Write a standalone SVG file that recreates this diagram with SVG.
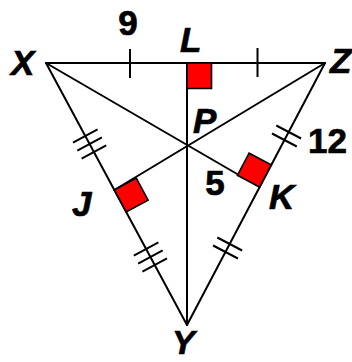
<svg xmlns="http://www.w3.org/2000/svg" width="352" height="362" viewBox="0 0 352 362">
<style>
.ln{stroke:#000;stroke-width:2;fill:none;stroke-linecap:round}
.tk{stroke:#000;stroke-width:2;fill:none}
.sq{fill:#ff0000;stroke:#000;stroke-width:1.6;stroke-linejoin:miter}
.lb{font-family:"Liberation Sans",Arial,sans-serif;font-weight:bold;font-size:35px;fill:#000;stroke:#000;stroke-width:0.7}
.it{font-style:italic}
</style>
<rect width="352" height="362" fill="#fff"/>
<g id="connectors">
<line class="ln" x1="46" y1="63" x2="325" y2="63"/>
<line class="ln" x1="46" y1="63" x2="187" y2="325"/>
<line class="ln" x1="325" y1="63" x2="187" y2="325"/>
<line class="ln" x1="187" y1="63" x2="187" y2="325"/>
<line class="ln" x1="46" y1="63" x2="259.5" y2="187"/>
<line class="ln" x1="325" y1="63" x2="114.3" y2="190"/>
</g>
<g id="ticks">
<line class="tk" x1="130" y1="49" x2="130" y2="78"/>
<line class="tk" x1="257.5" y1="48" x2="257.5" y2="77"/>
<line class="tk" x1="73" y1="142.6" x2="97.6" y2="129.4"/>
<line class="tk" x1="77.3" y1="150.6" x2="101.9" y2="137.4"/>
<line class="tk" x1="81.6" y1="158.6" x2="106.2" y2="145.4"/>
<line class="tk" x1="133.8" y1="255.6" x2="158.4" y2="242.4"/>
<line class="tk" x1="138.1" y1="263.6" x2="162.7" y2="250.4"/>
<line class="tk" x1="142.4" y1="271.6" x2="167" y2="258.4"/>
<line class="tk" x1="276.3" y1="125.5" x2="301.1" y2="138.5"/>
<line class="tk" x1="272" y1="133.5" x2="296.8" y2="146.5"/>
<line class="tk" x1="217.3" y1="237.5" x2="242.1" y2="250.5"/>
<line class="tk" x1="213.1" y1="245.5" x2="237.9" y2="258.5"/>
</g>
<g id="sqL"><polygon class="sq" points="187,63 211.5,63 211.5,88.5 187,88.5"/></g>
<g id="sqJ"><polygon class="sq" points="114.3,190 136.3,178.1 148.1,200.2 126.2,212"/></g>
<g id="sqK"><polygon class="sq" points="259.5,187 271.2,164.9 249.1,153.2 237.4,175.3"/></g>
<g id="nX"><text class="lb it" x="11" y="75">X</text></g>
<g id="nL"><text class="lb it" x="180" y="52">L</text></g>
<g id="nZ"><text class="lb it" x="330" y="73">Z</text></g>
<g id="nP"><text class="lb it" x="193" y="133">P</text></g>
<g id="nJ"><text class="lb it" x="72" y="216">J</text></g>
<g id="nK"><text class="lb it" x="269" y="209">K</text></g>
<g id="nY"><text class="lb it" x="172" y="354" style="font-size:34px">Y</text></g>
<g id="l9"><text class="lb" x="128" y="35" text-anchor="middle">9</text></g>
<g id="l12"><text class="lb" x="308" y="153">12</text></g>
<g id="l5"><text class="lb" x="215" y="195" text-anchor="middle">5</text></g>
</svg>
